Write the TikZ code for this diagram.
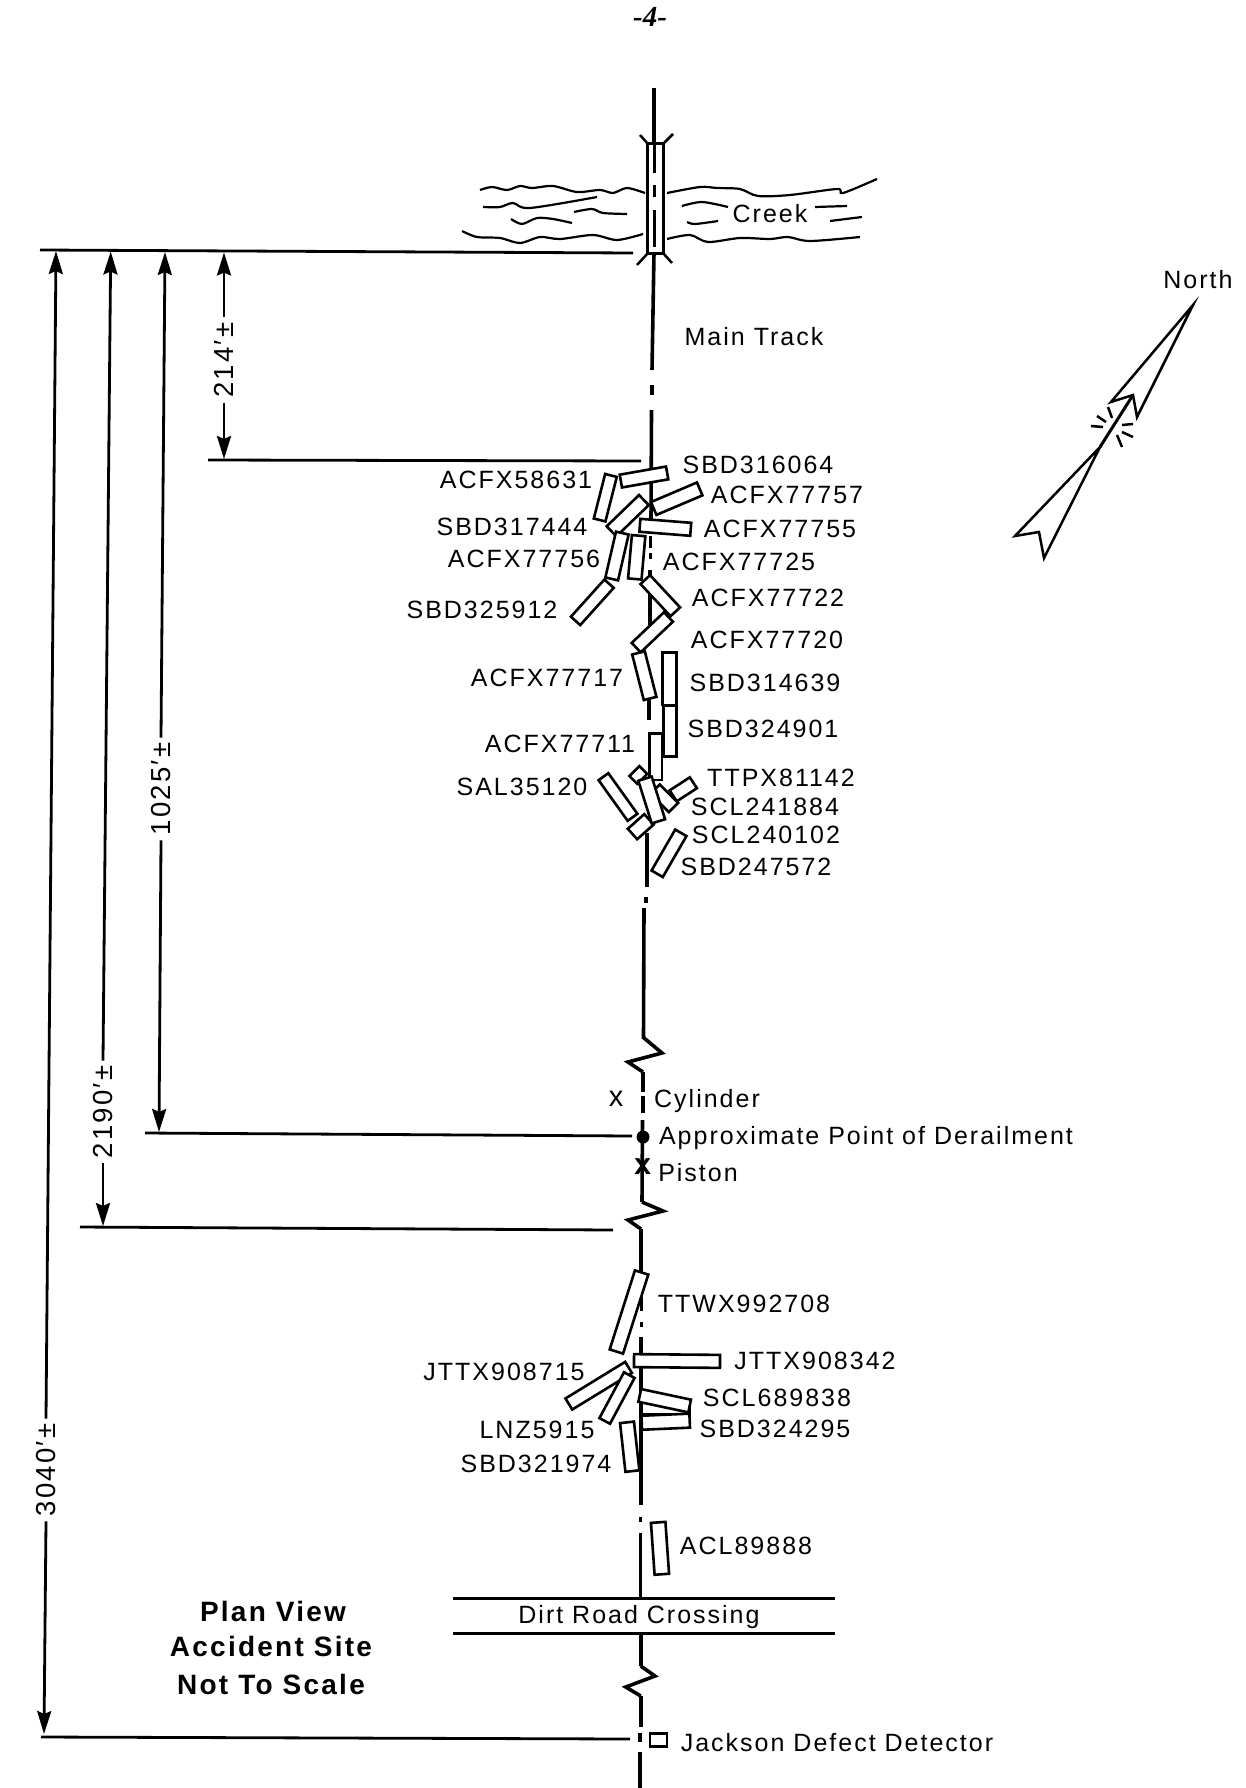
\documentclass[tikz,border=0pt]{standalone}
\usepackage{fontspec}
\usepackage{tikz}
\usetikzlibrary{arrows.meta}
\setmainfont[LetterSpace=8]{Liberation Sans}
\newfontfamily\pagefont{Liberation Serif}
\tikzset{
  tag/.style={font=\fontsize{25}{28}\selectfont,inner sep=0pt},
  bigtag/.style={font=\bfseries\fontsize{28}{32}\selectfont,inner sep=0pt},
  dimtag/.style={font=\fontsize{27.5}{30}\selectfont,rotate=90,inner sep=5pt},
  car/.style={draw,fill=white,line width=2.6pt,minimum height=#1,inner sep=0pt},
  track/.style={line width=3.6pt},
  rail/.style={line width=3pt},
  ext/.style={line width=2.8pt},
  dim/.style={line width=2.8pt,-{Stealth[length=23pt,width=14pt,inset=3pt]}},
  wave/.style={line width=2.2pt},
  tick/.style={line width=2.5pt}
}
\begin{document}
\begin{tikzpicture}[x=1pt,y=-1pt]
\useasboundingbox (0,0) rectangle (1246,1788);
\node[font=\pagefont\bfseries\itshape\fontsize{29}{30}\selectfont,inner sep=0pt] (page) at (650,17) {-4-};
\foreach \xa/\ya/\xb/\yb in {654/88/654/143,654/253/652/370,652/385/652/395,651.5/410/651/520,650.5/536/650.5/548,650.5/553/650.5/559,650/570/650/625,649/697/649/720,647/833/647/887,646/897/646/903,644/908/643.5/1039,643/1072/643/1092,642.7/1096/642.7/1113,642.5/1120/642/1202,641/1229/641/1293,641.5/1297/641.5/1311,641.5/1322/641.5/1327,641/1337/641/1505,640.5/1517/640.5/1522,640.5/1533/640.5/1597,640.7/1633/640.7/1666,640.7/1696/640.7/1727,640/1733/640/1742,640/1752/640/1788}
  \draw[track] (\xa,\ya) -- (\xb,\yb);
\foreach \ya/\yb in {143/173,185/197,210/247}
  \draw[rail] (654,\ya) -- (654,\yb);
\draw[track,line join=miter] (644,1038) -- (662,1053) -- (628,1062) -- (643,1072);
\draw[track,line join=miter] (642,1202) -- (663,1211) -- (628,1220) -- (641,1229);
\draw[track,line join=miter] (640.7,1666) -- (655,1676) -- (625.7,1687) -- (640.7,1696);
\draw[rail] (647.5,143) rectangle (663,253);
\draw[tick] (640,135) -- (648,144) (673,134) -- (663,144) (637,265) -- (648,253) (672,263) -- (663,253);
\draw[wave] plot[smooth] coordinates {(480,190)(492,187)(507,190)(520,186)(532,188)(553,186)(577,192)(600,190)(613,193)(627,188)(645,193)};
\draw[wave] plot[smooth] coordinates {(483,207)(500,207)(513,203)(530,208)(597,197)};
\draw[wave] plot[smooth] coordinates {(574,212)(592,209)(603,213)(627,214)};
\draw[wave] plot[smooth] coordinates {(511,219)(522,224)(537,218)(553,219)(572,223)};
\draw[wave] plot[smooth] coordinates {(462,231)(477,237)(500,238)(520,243)(540,237)(560,239)(593,235)(617,240)(643,234)};
\draw[wave] plot[smooth] coordinates {(667,193)(700,187)(717,188)(740,189)(758,196)(790,195)(837,189)(843,193)(877,179)};
\draw[wave] plot[smooth] coordinates {(682,206)(702,202)(728,207)};
\draw[wave] plot[smooth] coordinates {(687,222)(695,224)(718,221)};
\draw[wave] (815,207) -- (847,206);
\draw[wave] (830,221) -- (862,217);
\draw[wave] plot[smooth] coordinates {(667,239)(690,235)(708,242)(740,238)(770,239)(788,237)(810,241)(860,237)};
\foreach \n/\x/\y/\l/\w/\a in {a/638.3/775/14/11/45,b/664.3/798.3/26/13/-45,c/683.3/789.3/24/13/33,d/640.7/826.7/22/14/41.6,e/665.7/1408/48/13/0}
  \node[car=\w pt,minimum width=\l pt,rotate=\a] (stub\n) at (\x,\y) {};
\foreach \n/\x/\y/\l/\w/\a/\lx/\ly in {
  ACFX58631/605.3/497.7/46/12/75.7/516/480,
  ACFX77757/676.7/498.7/50/14/23/787/495,
  SBD316064/644/477/47/13/10/758/465,
  SBD317444/627.7/515.7/45/14/44/512/527,
  ACFX77755/665.3/527.3/51/13/-4.5/780/529,
  ACFX77756/617/556/47/13/77/524/559,
  ACFX77725/636.7/557.3/43.5/13.5/85/739/562,
  SBD325912/592.3/602.3/50/12.5/48/482/610,
  ACFX77720/652.3/632.3/44.5/13/43.5/767/640,
  ACFX77722/660.3/595.7/44/13/-47/768/598,
  ACFX77717/644.3/675.7/47/13/-75.7/547/678,
  SBD314639/669.5/678.7/52.7/14/90/765/683,
  SBD324901/670/731.3/50.7/13.5/90/763/729,
  ACFX77711/655.7/756.7/46.7/12.5/90/560/744,
  SAL35120/618/797/50/12/-54.4/522/787,
  TTPX81142/651.7/800/44.7/14/-72.6/781/778,
  SBD247572/669/853.3/47.3/13/60/756/867,
  TTWX992708/629/1312/83/14/72.3/744/1304,
  JTTX908342/677/1361/86/13/-0.5/815/1361,
  JTTX908715/598.7/1385.7/70/13/31.5/504/1372,
  LNZ5915/617/1398/52/12/61.8/537/1430,
  SBD324295/665.7/1421.7/48/14/2.5/775/1429,
  SCL689838/664.7/1400.7/51/13/-12/777/1398,
  SBD321974/629.7/1446.7/49/14/-83.7/536/1464,
  ACL89888/660/1548.3/52/14.5/-86/746/1546}
{
  \node[car=\w pt,minimum width=\l pt,rotate=\a] (car\n) at (\x,\y) {};
  \node[tag] (lbl\n) at (\lx,\ly) {\n};
}
\foreach \n/\x/\y in {SCL241884/765/807,SCL240102/766/835,Creek/770/214,Cylinder/707/1101,Piston/698/1173}
  \node[tag] (lbl\n) at (\x,\y) {\n};
\node[tag] (track) at (754,337) {Main Track};
\node[tag] (derail) at (866,1138.5) {Approximate Point of Derailment};
\node[tag] (road) at (639,1617) {Dirt Road Crossing};
\node[tag] (detector) at (837,1743) {Jackson Defect Detector};
\node[tag] (north) at (1198,280) {North};
\node[tag,font=\fontsize{29}{30}\selectfont] (cyl) at (616,1099) {x};
\node[tag,font=\bfseries\fontsize{30}{30}\selectfont] (pist) at (642.7,1167) {x};
\fill (643,1137) circle (6.5);
\draw[line width=2.8pt] (650,1733.5) rectangle (667,1746.5);
\draw[rail] (453,1598) -- (835,1598) (453,1633) -- (835,1633);
\node[bigtag] (plan1) at (273,1611) {Plan View};
\node[bigtag] (plan2) at (271,1646) {Accident Site};
\node[bigtag] (plan3) at (271,1684) {Not To Scale};
\coordinate (t1) at (56,251);
\coordinate (t2) at (110.7,251.5);
\coordinate (t3) at (165,252);
\coordinate (t4) at (224,252.5);
\coordinate (b1) at (44,1734);
\coordinate (b2) at (103,1226);
\coordinate (b3) at (159,1132);
\coordinate (b4) at (224,459);
\draw[ext] (40,250) -- (633,253);
\draw[ext] (208,460) -- (641,461);
\draw[ext] (145,1133) -- (632,1136);
\draw[ext] (80,1227) -- (613,1230);
\draw[ext] (41,1737) -- (630,1739);
\node[dimtag] (d1) at (46,1470) {3040′±};
\node[dimtag] (d2) at (103,1112) {2190′±};
\node[dimtag] (d3) at (161,789) {1025′±};
\node[dimtag] (d4) at (224,360) {214′±};
\foreach \i in {1,2,3,4}{
  \draw[dim] (d\i.east) -- (t\i);
  \draw[dim] (d\i.west) -- (b\i);
}
\draw[tick,line join=miter] (1133,395) -- (1111,402) -- (1193,305) -- (1137,417) -- cycle;
\draw[tick,line join=miter] (1100,447) -- (1015,536) -- (1039,532) -- (1044,558) -- cycle;
\draw[line width=3pt] (1133,395) -- (1100,447);
\draw[tick] (1097,416) -- (1106,422) (1108,407) -- (1112,418) (1091,426) -- (1103,427) (1122,425) -- (1133,424) (1122,432) -- (1133,437) (1117,435) -- (1122,447);
\end{tikzpicture}
\end{document}
